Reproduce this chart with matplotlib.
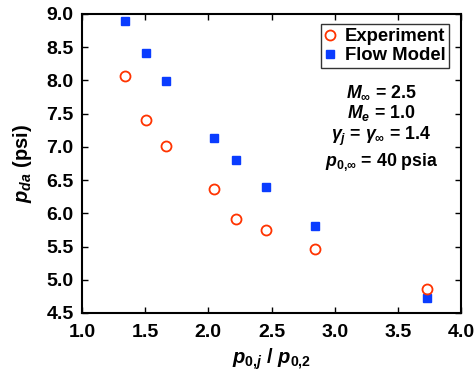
import matplotlib
matplotlib.use("Agg")
import matplotlib.pyplot as plt

plt.rcParams['font.family'] = 'Liberation Sans'
plt.rcParams['font.weight'] = 'bold'
plt.rcParams['mathtext.fontset'] = 'custom'
plt.rcParams['mathtext.rm'] = 'Liberation Sans:bold'
plt.rcParams['mathtext.it'] = 'Liberation Sans:italic:bold'
plt.rcParams['mathtext.bf'] = 'Liberation Sans:bold'

# pressure ratio p0j/p02
ratio = [1.341, 1.505, 1.664, 2.045, 2.222, 2.458, 2.844, 3.729]
# dead-air pressure (psi)
experiment = [8.06, 7.41, 7.02, 6.36, 5.92, 5.75, 5.46, 4.86]
flow_model = [8.895, 8.41, 7.99, 7.14, 6.80, 6.39, 5.81, 4.73]

fig = plt.figure(figsize=(4.74, 3.76), dpi=100)
ax = fig.add_axes([0.173, 0.1676, 0.7996, 0.7952])

ax.plot(ratio, flow_model, 's', color='#0A3CFF', markersize=5.8, label='Flow Model', zorder=3)
ax.plot(ratio, experiment, 'o', markerfacecolor='none', markeredgecolor='#FF3300',
        markersize=7.2, markeredgewidth=1.3, label='Experiment', zorder=3)

ax.set_xlim(1.0, 4.0)
ax.set_ylim(4.5, 9.0)
ax.set_xticks([1.0, 1.5, 2.0, 2.5, 3.0, 3.5, 4.0])
ax.set_yticks([4.5, 5.0, 5.5, 6.0, 6.5, 7.0, 7.5, 8.0, 8.5, 9.0])
ax.xaxis.set_major_formatter(matplotlib.ticker.FormatStrFormatter('%.1f'))
ax.yaxis.set_major_formatter(matplotlib.ticker.FormatStrFormatter('%.1f'))
ax.tick_params(direction='in', length=4, width=1, top=True, right=True, labelsize=14)
ax.tick_params(axis='x', pad=8)
ax.tick_params(axis='y', pad=6)
for lbl in ax.get_xticklabels() + ax.get_yticklabels():
    lbl.set_fontweight('bold')
for s in ax.spines.values():
    s.set_linewidth(1.5)

ax.set_xlabel(r'$p_{0{,}j}$ / $p_{0{,}2}$', fontsize=14.5, fontweight='bold', labelpad=4)
ax.set_ylabel(r'$p_{da}$ (psi)', fontsize=14.5, fontweight='bold', labelpad=9)

handles, labels = ax.get_legend_handles_labels()
leg = ax.legend(handles[::-1], labels[::-1], loc='upper right', bbox_to_anchor=(0.968, 0.965),
                prop={'weight': 'bold', 'size': 13.3}, frameon=True, fancybox=False,
                edgecolor='black', handlelength=0.6, handletextpad=0.5, borderpad=0.2,
                labelspacing=0.1, borderaxespad=0.0)
leg.get_frame().set_linewidth(1.0)

ax.text(0.79, 0.77, r'$M_{\infty}$ = 2.5' + '\n' + r'$M_e$ = 1.0' + '\n'
        + r'$\gamma_j$ = $\gamma_{\infty}$ = 1.4' + '\n' + r'$p_{0{,}\infty}$ = 40 psia',
        transform=ax.transAxes, ha='center', va='top', fontsize=12.8, fontweight='bold',
        linespacing=1.15)

fig.savefig('out.png', dpi=100)
